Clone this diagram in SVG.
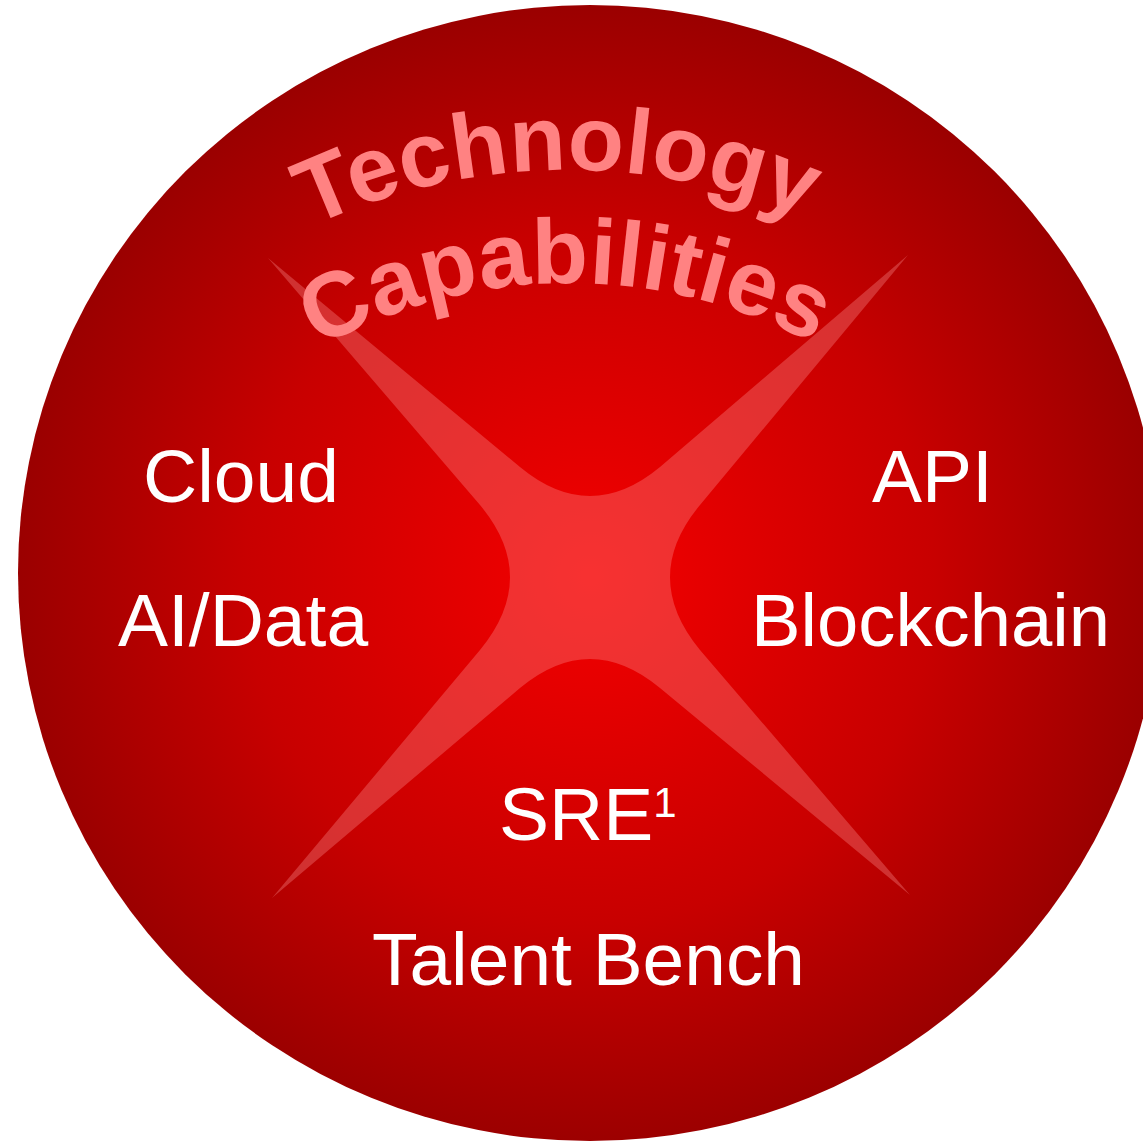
<svg xmlns="http://www.w3.org/2000/svg" width="1143" height="1144" viewBox="0 0 1143 1144">
  <style>
    .lbl { font-family: "Liberation Sans", Arial, sans-serif; font-size: 75px; fill: #ffffff; }
    .arc { font-family: "Liberation Sans", Arial, sans-serif; font-size: 92px; font-weight: bold; fill: #ff8282; }
  </style>
  <defs>
    <radialGradient id="bgGrad" gradientUnits="userSpaceOnUse" cx="590" cy="577" r="575">
      <stop offset="0" stop-color="#f40000"/>
      <stop offset="0.6" stop-color="#c80000"/>
      <stop offset="1" stop-color="#9a0000"/>
    </radialGradient>
    <path id="arcTech" d="M 34.5 484.3 A 610 610 0 0 1 1090.9 465.8"/>
    <path id="arcCap" d="M 117.4 547 A 520 520 0 0 1 1018 539.1"/>
  </defs>

  <g id="background">
    <ellipse cx="590" cy="573" rx="572" ry="568" fill="url(#bgGrad)"/>
  </g>

  <g id="star">
    <path d="M 268 258 L 520 467 Q 590 525 660 467 L 908 255 L 700 505 Q 640 577 700 650 L 910 895 L 660 688 Q 590 630 520 688 L 272 898 L 480 650 Q 540 577 480 505 Z" fill="#ff9696" fill-opacity="0.33"/>
  </g>

  <g id="title">
    <text class="arc"><textPath href="#arcTech" startOffset="50%" text-anchor="middle">Technology</textPath></text>
    <text class="arc"><textPath href="#arcCap" startOffset="50%" text-anchor="middle">Capabilities</textPath></text>
  </g>

  <g id="node-cloud"><text class="lbl" x="143" y="502">Cloud</text></g>
  <g id="node-api"><text class="lbl" x="872" y="502">API</text></g>
  <g id="node-aidata"><text class="lbl" x="118" y="646">AI/Data</text></g>
  <g id="node-blockchain"><text class="lbl" x="751" y="646" textLength="359" lengthAdjust="spacingAndGlyphs">Blockchain</text></g>
  <g id="node-sre"><text class="lbl" x="499" y="840">SRE<tspan font-size="42" dy="-23">1</tspan></text></g>
  <g id="node-talent"><text class="lbl" x="372" y="985" textLength="433" lengthAdjust="spacingAndGlyphs">Talent Bench</text></g>
</svg>
